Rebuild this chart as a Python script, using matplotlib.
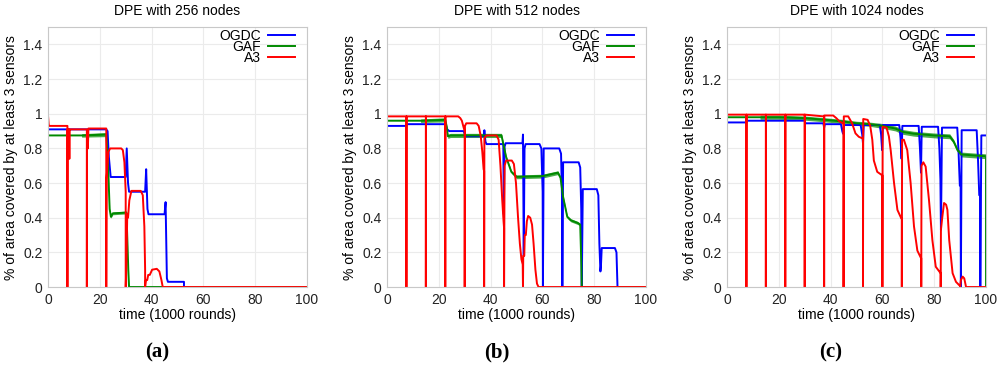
import matplotlib
matplotlib.use("Agg")
import matplotlib.pyplot as plt
import numpy as np

plt.rcParams['font.family'] = ['Liberation Sans', 'DejaVu Sans']

titles = ["DPE with 256 nodes", "DPE with 512 nodes", "DPE with 1024 nodes"]
panel_labels = ["(a)", "(b)", "(c)"]
series_names = ["OGDC", "GAF", "A3"]
xticks = [0, 20, 40, 60, 80, 100]
yticks = [0, 0.2, 0.4, 0.6, 0.8, 1.0, 1.2, 1.4]
ytick_labels = ["0", "0.2", "0.4", "0.6", "0.8", "1", "1.2", "1.4"]

# ---------------- Panel (a): 256 nodes ----------------
a_ogdc_x = [0, 0, 22.5, 23.0, 23.5, 24.2, 30.0, 30.4, 30.9, 31.3, 37.5, 37.9, 38.4, 38.8,
            45.0, 45.4, 45.9, 46.3, 52.5, 52.5, 100]
a_ogdc_y = [0, 0.91, 0.91, 0.90, 0.75, 0.635, 0.635, 0.80, 0.60, 0.55, 0.55, 0.68, 0.45, 0.42,
            0.42, 0.49, 0.05, 0.03, 0.03, 0, 0]
a_gaf_x = [0, 12.9, 13.0, 22.5, 23.2, 23.8, 24.3, 25.0, 30.3, 31.0, 31.3, 100]
a_gaf_y = [0.875, 0.875, 0.875, 0.88, 0.70, 0.45, 0.405, 0.425, 0.43, 0.10, 0, 0]
a_gaf_spread = [0, 0, 0.01, 0.012, 0.006, 0.006, 0.008, 0.008, 0.008, 0, 0, 0]
a_a3_x = [0, 0, 0.3, 0.6, 7.5, 7.5, 7.55, 8.1, 8.25, 8.4, 8.6, 15.0, 15.0, 15.05, 15.4, 15.6, 15.9,
          22.5, 22.5, 22.6, 23.3, 24.0, 28.3, 28.9, 29.5, 30.0, 30.0, 30.3, 30.6, 30.9, 31.4, 32.2,
          35.8, 36.6, 37.2, 37.5, 37.5, 37.8, 38.3, 38.7, 39.3, 40.2, 42.0, 43.0, 43.8, 44.3, 100]
a_a3_y = [0, 0.99, 0.93, 0.93, 0.93, 0, 0.91, 0.91, 0.74, 0.91, 0.91, 0.91, 0, 0.90, 0.80, 0.915, 0.915,
          0.915, 0, 0.62, 0.78, 0.80, 0.80, 0.79, 0.72, 0.55, 0, 0.14, 0.42, 0.40, 0.50, 0.555,
          0.555, 0.53, 0.35, 0.10, 0, 0.04, 0.04, 0.07, 0.07, 0.10, 0.105, 0.09, 0.04, 0, 0]

# ---------------- Panel (b): 512 nodes ----------------
b_ogdc_x = [0, 0, 7.5, 7.5, 22.5, 23.3, 24.0, 29.6, 30.3, 37.4, 37.6, 38.0, 38.4, 44.9, 45.1, 45.4,
            45.8, 52.3, 52.5, 52.8, 53.1, 53.5, 58.9, 59.6, 60.1, 60.2, 60.5, 66.5, 67.2, 67.6,
            67.7, 68.0, 74.0, 74.6, 75.0, 75.2, 75.6, 81.0, 81.6, 82.0, 82.4, 82.6, 82.9, 88.0,
            88.6, 88.9, 89.0, 100]
b_ogdc_y = [0, 0.93, 0.93, 0.94, 0.94, 0.91, 0.90, 0.90, 0.87, 0.87, 0.905, 0.84, 0.825, 0.825, 0.42,
            0.81, 0.83, 0.83, 0.88, 0.18, 0.80, 0.825, 0.825, 0.80, 0.55, 0, 0.80, 0.80, 0.77,
            0.50, 0, 0.72, 0.72, 0.69, 0.45, 0, 0.565, 0.565, 0.53, 0.25, 0.09, 0.12, 0.225, 0.225,
            0.20, 0.05, 0, 0]
b_gaf_x = [0, 12.9, 13.0, 22.5, 23.0, 23.5, 24.5, 44.2, 46.0, 48.0, 50.0, 60.0, 66.0, 67.0, 68.0,
           69.6, 71.0, 73.6, 74.6, 75.0, 75.2, 100]
b_gaf_y = [0.96, 0.96, 0.96, 0.965, 0.93, 0.87, 0.875, 0.875, 0.75, 0.665, 0.636, 0.64, 0.66, 0.63,
           0.52, 0.405, 0.385, 0.37, 0.36, 0.15, 0, 0]
b_gaf_spread = [0, 0, 0.01, 0.012, 0.008, 0.012, 0.012, 0.012, 0.008, 0.008, 0.011, 0.011, 0.011,
                0.008, 0.008, 0.008, 0.009, 0.009, 0.008, 0, 0, 0]
b_a3_x = [0, 0, 7.5, 7.5, 7.55, 15, 15, 15.05, 22.5, 22.5, 22.55, 27.5, 28.3, 28.9, 29.6, 30.0, 30.0,
          30.1, 30.6, 34.6, 35.4, 36.2, 36.8, 37.3, 37.5, 37.5, 37.6, 38.4, 42.3, 43.1, 43.8, 44.5,
          45.0, 45.2, 45.2, 45.4, 46.0, 48.2, 49.0, 49.8, 50.6, 51.3, 51.9, 52.4, 52.5, 52.6, 53.0,
          53.2, 53.6, 54.0, 54.5, 55.3, 56.0, 56.6, 57.3, 57.9, 58.5, 100]
b_a3_y = [0, 0.985, 0.985, 0, 0.985, 0.985, 0, 0.985, 0.985, 0, 0.985, 0.985, 0.975, 0.96, 0.92, 0.90,
          0, 0.93, 0.945, 0.945, 0.93, 0.87, 0.78, 0.68, 0.67, 0, 0.86, 0.875, 0.875, 0.85, 0.70,
          0.50, 0.38, 0.34, 0, 0.70, 0.73, 0.73, 0.71, 0.60, 0.40, 0.25, 0.16, 0.13, 0, 0.18, 0.18,
          0.30, 0.30, 0.38, 0.41, 0.40, 0.36, 0.25, 0.10, 0.02, 0, 0]

# ---------------- Panel (c): 1024 nodes ----------------
c_ogdc_x = [0, 0, 7.5, 7.5, 30.0, 30.3, 37.2, 37.5, 37.8, 44.0, 44.5, 44.8, 45.2, 51.6, 52.2, 52.5,
            52.8, 59.0, 59.5, 59.9, 60.2, 66.5, 67.0, 67.4, 67.7, 74.0, 74.5, 74.9, 75.2, 81.5,
            82.0, 82.4, 82.6, 82.8, 83.0, 88.9, 89.4, 89.9, 90.2, 90.3, 90.6, 96.4, 96.9, 97.4,
            97.7, 97.8, 98.2, 100]
c_ogdc_y = [0, 0.95, 0.95, 0.96, 0.96, 0.945, 0.945, 0.92, 0.94, 0.94, 0.90, 0.885, 0.935, 0.935,
            0.88, 0.83, 0.935, 0.935, 0.88, 0.79, 0.935, 0.935, 0.86, 0.74, 0.93, 0.93, 0.80, 0.66,
            0.925, 0.925, 0.80, 0.62, 0.33, 0.60, 0.92, 0.92, 0.78, 0.585, 0.58, 0, 0.905, 0.905,
            0.74, 0.53, 0.53, 0, 0.875, 0.875]
c_gaf_x = [0, 12.7, 12.8, 20, 30, 38, 45, 50, 55, 60, 65, 68, 72, 80, 86, 87.5, 89, 90.5, 95, 99.8,
           100, 100]
c_gaf_y = [0.98, 0.98, 0.98, 0.98, 0.975, 0.965, 0.955, 0.945, 0.94, 0.93, 0.915, 0.895, 0.885,
           0.875, 0.87, 0.84, 0.79, 0.765, 0.76, 0.755, 0.755, 0]
c_gaf_spread = [0, 0, 0.012, 0.012, 0.012, 0.012, 0.012, 0.012, 0.012, 0.014, 0.014, 0.014, 0.014,
                0.014, 0.014, 0.012, 0.012, 0.014, 0.014, 0.014, 0, 0]
c_a3_x = [0, 0, 7.5, 7.5, 7.55, 15, 15, 15.05, 22.5, 22.5, 22.55, 30, 30, 30.05, 37.3, 37.5, 37.5,
          37.55, 41.0, 42.2, 43.5, 44.8, 45.0, 45.0, 45.1, 46.8, 48.3, 49.6, 50.9, 52.3, 52.5,
          52.5, 52.6, 54.3, 55.3, 56.1, 56.7, 58.0, 59.9, 60.0, 60.0, 60.1, 61.6, 62.5, 63.2,
          64.5, 65.8, 67.3, 67.5, 67.5, 67.6, 68.3, 69.6, 70.9, 72.2, 73.5, 74.9, 75.0, 75.0,
          75.1, 75.8, 76.7, 78.0, 79.3, 80.6, 82.3, 82.5, 82.5, 82.6, 83.1, 83.8, 84.6, 85.1,
          85.8, 87.1, 88.4, 89.7, 90.0, 90.0, 90.3, 91.0, 91.6, 92.3, 100]
c_a3_y = [0, 0.995, 0.995, 0, 0.995, 0.995, 0, 0.995, 0.995, 0, 0.995, 0.995, 0, 0.995, 0.985,
          0.985, 0, 0.99, 0.99, 0.975, 0.955, 0.945, 0.945, 0, 0.985, 0.985, 0.945, 0.887,
          0.867, 0.858, 0.858, 0, 0.97, 0.965, 0.93, 0.85, 0.73, 0.665, 0.645, 0.645, 0, 0.925,
          0.92, 0.87, 0.79, 0.60, 0.445, 0.396, 0.396, 0, 0.85, 0.85, 0.79, 0.60, 0.35, 0.21,
          0.167, 0.167, 0, 0.70, 0.72, 0.695, 0.50, 0.27, 0.117, 0.083, 0.083, 0, 0.33, 0.40,
          0.485, 0.475, 0.445, 0.27, 0.08, 0.03, 0.01, 0.01, 0, 0.04, 0.06, 0.05, 0, 0]

panels = [
    (a_ogdc_x, a_ogdc_y, a_gaf_x, a_gaf_y, a_gaf_spread, a_a3_x, a_a3_y),
    (b_ogdc_x, b_ogdc_y, b_gaf_x, b_gaf_y, b_gaf_spread, b_a3_x, b_a3_y),
    (c_ogdc_x, c_ogdc_y, c_gaf_x, c_gaf_y, c_gaf_spread, c_a3_x, c_a3_y),
]

colors = {"OGDC": "#0000ff", "GAF": "#008a00", "A3": "#ff0000"}
LW = 1.4

fig = plt.figure(figsize=(10, 3.66), dpi=100)
lefts = [0.048, 0.387, 0.727]
label_x = [0.157, 0.497, 0.831]

for i, (ox, oy, gx, gy, gs, rx, ry) in enumerate(panels):
    ax = fig.add_axes([lefts[i], 0.2158, 0.259, 0.710])
    ax.plot(ox, oy, color=colors["OGDC"], lw=LW, label="OGDC")
    gx_a = np.array(gx); gy_a = np.array(gy); gs_a = np.array(gs)
    ax.fill_between(gx_a, gy_a - gs_a, gy_a + gs_a, color=colors["GAF"], alpha=0.7, lw=0)
    ax.plot(gx, gy, color=colors["GAF"], lw=LW, label="GAF")
    ax.plot(rx, ry, color=colors["A3"], lw=LW, label="A3")

    ax.set_xlim(0, 100)
    ax.set_ylim(0, 1.5)
    ax.set_xticks(xticks)
    ax.set_yticks(yticks)
    ax.set_yticklabels(ytick_labels)
    ax.tick_params(length=0, labelsize=10, pad=4, colors='#222222')
    ax.grid(True, color='#ebebeb', lw=0.8)
    ax.set_axisbelow(True)
    for s in ax.spines.values():
        s.set_color('#c8c8c8')
        s.set_linewidth(0.8)
    ax.set_title(titles[i], fontsize=10, pad=9)
    ax.set_xlabel("time (1000 rounds)", fontsize=10, labelpad=1)
    ax.set_ylabel("% of area covered by at least 3 sensors", fontsize=10, labelpad=4)
    ax.legend(loc='upper right', bbox_to_anchor=(0.955, 0.992), frameon=False,
              markerfirst=False, handlelength=2.0, handletextpad=0.5,
              labelspacing=-0.22, borderaxespad=0, borderpad=0, fontsize=10)
    fig.text(label_x[i], 1 - 352 / 366, panel_labels[i], ha='center', va='center',
             fontsize=15, fontweight='bold', family='Liberation Serif')

fig.savefig("out.png", dpi=100)
